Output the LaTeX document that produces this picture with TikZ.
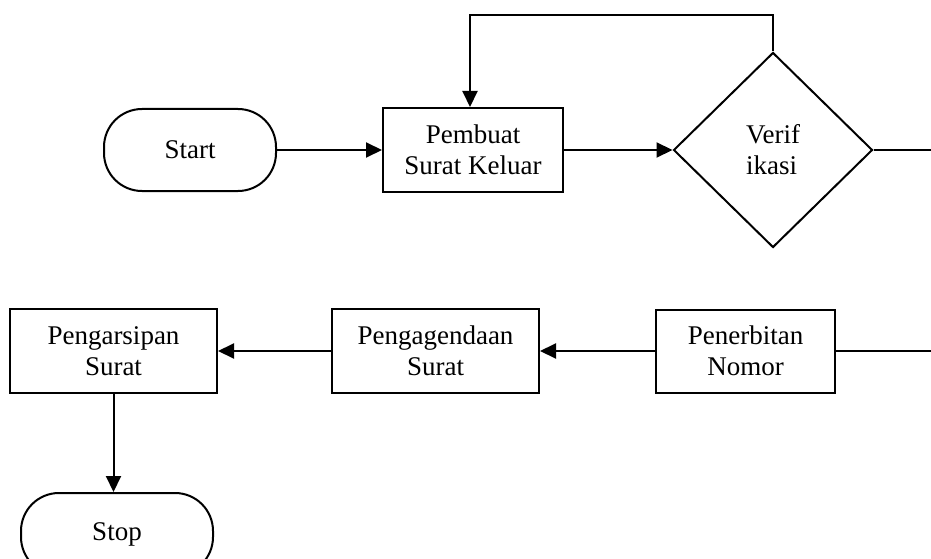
\documentclass[tikz,border=0pt]{standalone}
\usepackage{fontspec}
\setmainfont{Liberation Serif}
\usetikzlibrary{shapes.geometric,arrows.meta}
\begin{document}
\begin{tikzpicture}[x=1pt,y=-1pt,
  every node/.style={font=\fontsize{27}{31}\selectfont, align=center, line width=2pt, draw, inner sep=2pt},
  terminal/.style={rounded corners=38pt, minimum width=172pt, minimum height=82pt},
  process/.style={rectangle, minimum height=84pt},
  decision/.style={diamond, minimum width=199pt, minimum height=195pt, inner sep=0pt, align=left},
  flow/.style={line width=2pt, -{Triangle[length=16pt,width=15pt]}},
  link/.style={line width=2pt}]
\useasboundingbox (0,0) rectangle (931,559);
\clip (0,0) rectangle (931,559);

% nodes
\node[terminal] (start) at (190,150) {Start};
\node[process, minimum width=180pt] (buat) at (473,150) {Pembuat\\Surat Keluar};
\node[decision] (verif) at (773,150) {Verif\\ikasi};
\node[process, minimum width=179pt, minimum height=83pt] (terbit) at (745.5,351) {Penerbitan\\Nomor};
\node[process, minimum width=207pt] (agenda) at (435.5,351) {Pengagendaan\\Surat};
\node[process, minimum width=207pt] (arsip) at (113.5,351) {Pengarsipan\\Surat};
\node[terminal, minimum width=192pt] (stop) at (117,534) {Stop};

% free ends and bends
\coordinate (fb) at (470,15);
\coordinate (outA) at (931,150);
\coordinate (outB) at (931,351);

% connectors
\draw[flow] (start) -- (buat);
\draw[flow] (buat) -- (verif);
\draw[flow] (verif.north) |- (fb) -- (fb |- buat.north);
\draw[link] (verif.east) -- (outA);
\draw[link] (terbit.east) -- (outB);
\draw[flow] (terbit) -- (agenda);
\draw[flow] (agenda) -- (arsip);
\draw[flow] (arsip.south) -- (arsip.south |- stop.north);
\end{tikzpicture}
\end{document}
